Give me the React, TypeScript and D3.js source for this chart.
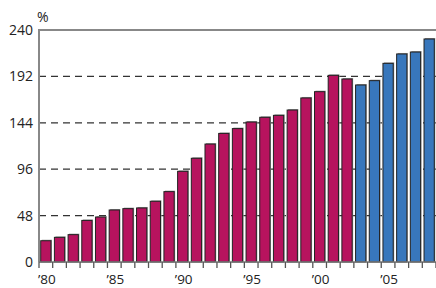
import React from "react";
import * as d3 from "d3";

const years: number[] = d3.range(1980, 2009);
const values: number[] = [
  22, 25.5, 28.3, 43, 46.5, 53.8, 55.2, 55.9, 62.8, 72.8, 93.8, 107.3, 122,
  133, 138, 144.8, 149.7, 151.7, 157.2, 169.7, 176.2, 193.1, 189.3,
  183.1, 187.6, 205.5, 215.2, 217.2, 230.7,
];
const yTicks: number[] = [0, 48, 96, 144, 192, 240];
const xLabelYears: number[] = [1980, 1985, 1990, 1995, 2000, 2005];
const forecastStart = 2003;

const W = 436;
const H = 288;
const left = 39;
const right = 436;
const top = 30;
const bottom = 262;

export default function App() {
  const x = d3
    .scaleBand<number>()
    .domain(years)
    .range([left, right])
    .paddingInner(0.25)
    .paddingOuter(0.125);
  const y = d3.scaleLinear().domain([0, 240]).range([bottom, top]);
  const step = x.step();
  const font = "'Open Sans', 'DejaVu Sans', sans-serif";

  return (
    <svg
      width={W}
      height={H}
      style={{ position: "absolute", left: 0, top: 0 }}
      fontFamily={font}
    >
      <rect width={W} height={H} fill="#fff" />
      {yTicks
        .filter((t) => t > 0 && t < 240)
        .map((t) => (
          <line
            key={t}
            x1={left}
            x2={right}
            y1={y(t)}
            y2={y(t)}
            stroke="#333"
            strokeWidth={1.2}
            strokeDasharray="7,5"
          />
        ))}
      {years.map((yr, i) => {
        const bx = x(yr)!;
        const bw = x.bandwidth();
        const by = y(values[i]);
        const bh = bottom - by;
        const fill = yr >= forecastStart ? "#3877BC" : "#B7135E";
        return (
          <g key={yr}>
            <rect x={bx + 1} y={by - 1} width={bw} height={bh + 1} fill="#9a9a9a" />
            <rect
              x={bx}
              y={by}
              width={bw}
              height={bh}
              fill={fill}
              stroke="#222"
              strokeWidth={1}
            />
          </g>
        );
      })}
      <line x1={left} x2={right} y1={top} y2={top} stroke="#888" strokeWidth={2} />
      <line x1={left} x2={left} y1={top - 1} y2={bottom} stroke="#888" strokeWidth={2} />
      <line x1={left} x2={right} y1={bottom} y2={bottom} stroke="#777" strokeWidth={1.5} />
      {d3.range(0, years.length + 1).map((i) => (
        <line
          key={i}
          x1={left + i * step}
          x2={left + i * step}
          y1={bottom}
          y2={bottom + 6}
          stroke="#555"
          strokeWidth={1.3}
        />
      ))}
      {yTicks.map((t) => (
        <text
          key={t}
          x={33}
          y={y(t)}
          dy="0.36em"
          textAnchor="end"
          fontSize={14}
          fill="#222"
        >
          {t}
        </text>
      ))}
      <text x={37} y={22} fontSize={14} fill="#222">
        %
      </text>
      {xLabelYears.map((yr) => (
        <text
          key={yr}
          x={x(yr)! + x.bandwidth() / 2 + 1}
          y={284}
          textAnchor="middle"
          fontSize={13.5}
          fill="#222"
        >
          {"\u2019" + String(yr).slice(2)}
        </text>
      ))}
    </svg>
  );
}
